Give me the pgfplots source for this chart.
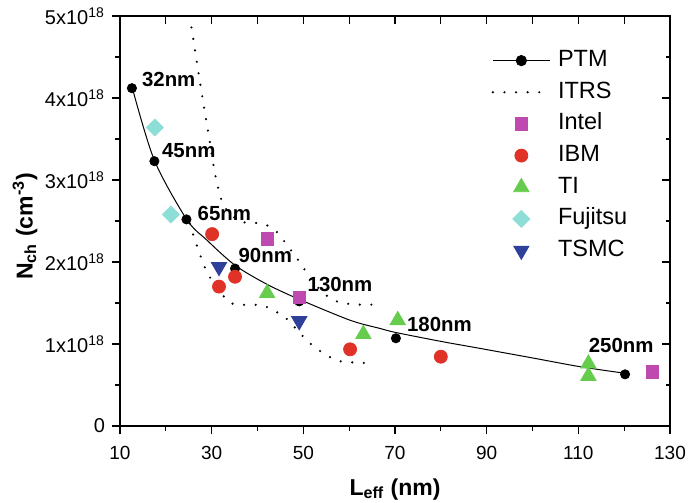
\documentclass[border=0pt]{standalone}
\usepackage{pgfplots}
\pgfplotsset{compat=1.18}
\usepackage{fontspec}
\setmainfont{Liberation Sans}
\definecolor{intel}{RGB}{190,73,176}
\definecolor{ibm}{RGB}{224,50,38}
\definecolor{ti}{RGB}{102,204,77}
\definecolor{fuj}{RGB}{142,222,216}
\definecolor{tsmc}{RGB}{46,64,154}
\begin{document}
\begin{tikzpicture}
\begin{axis}[
  at={(0,0)}, anchor=south west,
  scale only axis, width=275pt, height=205pt,
  xmin=10, xmax=130, ymin=0, ymax=5,
  axis line style={line width=0.75pt},
  tick pos=left, tick align=outside,
  xtick={10,30,50,70,90,110,130},
  xticklabels={10,30,50,70,90,110,130},
  minor xtick={20,40,60,80,100,120},
  ytick={0,1,2,3,4,5},
  yticklabels={0,1x10\textsuperscript{18},2x10\textsuperscript{18},3x10\textsuperscript{18},4x10\textsuperscript{18},5x10\textsuperscript{18}},
  minor ytick={0.5,1.5,2.5,3.5,4.5},
  major tick length=4pt, minor tick length=2.5pt,
  tick style={black, line width=0.6pt},
  xticklabel style={font=\fontsize{9.5}{10}\selectfont, yshift=-2.5pt},
  yticklabel style={font=\fontsize{10}{11}\selectfont},
  xlabel={L\textsubscript{eff} (nm)},
  ylabel={N\textsubscript{ch} (cm\textsuperscript{-3})},
  xlabel style={font=\fontsize{11.5}{12}\selectfont\bfseries, at={(axis description cs:0.5,-0.1683)}, anchor=base},
  ylabel style={font=\fontsize{11.5}{12}\selectfont\bfseries, at={(axis description cs:-0.1727,0.487)}, anchor=center, rotate=0},
  legend image code/.code={\draw[mark repeat=2,mark phase=2,#1] plot coordinates {(0pt,0pt) (14.25pt,0pt) (28.5pt,0pt)};},
  legend style={draw=none, fill=none, inner sep=0pt, at={(axis cs:91.0,4.595)}, anchor=north west,
    font=\fontsize{11.75}{12}\selectfont, row sep=4.83pt, column sep=3.5pt,
    nodes={inner sep=0pt, text height=8.5pt, text depth=2.5pt}},
  legend cell align=left,
]
% PTM fitted curve
\addplot[black, line width=0.5pt, smooth, forget plot] coordinates {
 (12.7,4.12) (17.5,3.24) (24.55,2.52) (28.9,2.27) (35.1,1.96) (42,1.73) (49.1,1.545)
 (60.2,1.29) (66.7,1.19) (70.2,1.14) (80.2,1.03) (88.5,0.947) (100,0.83) (110.4,0.723) (120.2,0.643)};
% PTM points
\addplot[only marks, mark=*, mark size=2.3pt, black,
  legend image code/.code={\draw[black, line width=0.5pt] (0pt,0pt) -- (28.5pt,0pt); \fill[black] (14.25pt,0pt) circle (2.6pt);}]
  coordinates {(12.6,4.12) (17.5,3.23) (24.5,2.52) (35.1,1.92) (49.1,1.52) (70.2,1.07) (120.2,0.63)};
\addlegendentry{PTM}
% ITRS upper
\addplot[black, line width=1.2pt, line cap=round, dash pattern=on 0pt off 5.8pt, smooth, no marks] coordinates {
 (25.2,5.0) (26.65,4.48) (27.89,4.04) (28.77,3.74) (29.64,3.45) (30.51,3.14) (31.1,2.98) (31.67,2.845)
 (32.47,2.71) (34.0,2.585) (36.55,2.49) (39.02,2.48) (42.01,2.45) (44.54,2.35) (46.37,2.21) (48.56,2.05)
 (50.37,1.90) (52.18,1.76) (54.36,1.62) (57.28,1.52) (59.81,1.49) (62.37,1.48) (64.92,1.48)};
\addlegendentry{ITRS}
% ITRS lower
\addplot[black, line width=1.2pt, line cap=round, dash pattern=on 0pt off 5.8pt, smooth, no marks, forget plot] coordinates {
 (25.2,2.47) (25.64,2.39) (27.46,2.09) (28.55,1.93) (30.01,1.78) (33.63,1.52) (36.18,1.48) (39.02,1.48)
 (41.64,1.46) (44.19,1.39) (46.72,1.29) (49.28,1.13) (51.83,0.99) (54.29,0.89) (57.28,0.80) (59.75,0.78)
 (62.37,0.77) (64.92,0.77)};
% Intel
\addplot[only marks, mark=square*, mark size=3.1pt, color=intel] coordinates {(42.1,2.28) (49.1,1.57) (126.1,0.66)};
\addlegendentry{Intel}
% IBM
\addplot[only marks, mark=*, mark size=3.25pt, color=ibm] coordinates {(30.1,2.34) (35.1,1.82) (31.6,1.70) (60.2,0.935) (80.0,0.845)};
\addlegendentry{IBM}
% TI
\addplot[only marks, mark=triangle*, mark size=4.4pt, color=ti] coordinates {(42.1,1.62) (63.1,1.12) (70.6,1.29) (112.2,0.76) (112.2,0.61)};
\addlegendentry{TI}
% Fujitsu
\addplot[only marks, mark=square*, mark size=3pt, mark options={rotate=45}, color=fuj] coordinates {(17.6,3.64) (21.1,2.58)};
\addlegendentry{Fujitsu}
% TSMC
\addplot[only marks, mark=triangle*, mark size=4.4pt, mark options={rotate=180}, color=tsmc] coordinates {(31.6,1.94) (49.1,1.28)};
\addlegendentry{TSMC}
% node labels
\begin{scope}[every node/.style={anchor=west, inner sep=0pt, font=\fontsize{10.2}{11}\selectfont\bfseries}]
\node at (axis cs:14.73,4.22) {32nm};
\node at (axis cs:19.1,3.36) {45nm};
\node at (axis cs:26.87,2.59) {65nm};
\node at (axis cs:35.8,2.085) {90nm};
\node at (axis cs:50.87,1.73) {130nm};
\node at (axis cs:72.55,1.244) {180nm};
\node at (axis cs:112.2,0.988) {250nm};
\end{scope}
\end{axis}
% top/right inward ticks
\begin{axis}[
  at={(0,0)}, anchor=south west,
  scale only axis, width=275pt, height=205pt,
  xmin=10, xmax=130, ymin=0, ymax=5,
  axis line style={line width=0.75pt},
  tick pos=right, tick align=inside,
  xtick={10,20,...,130}, xticklabels={},
  ytick={0,1,2,3,4,5}, yticklabels={},
  minor ytick={0.5,1.5,2.5,3.5,4.5},
  major tick length=3.8pt, minor tick length=2pt,
  tick style={black, line width=0.6pt},
]
\end{axis}
\pgfresetboundingbox
\path (-60pt,-38.5pt) rectangle (285.5pt,213pt);
\end{tikzpicture}
\end{document}
